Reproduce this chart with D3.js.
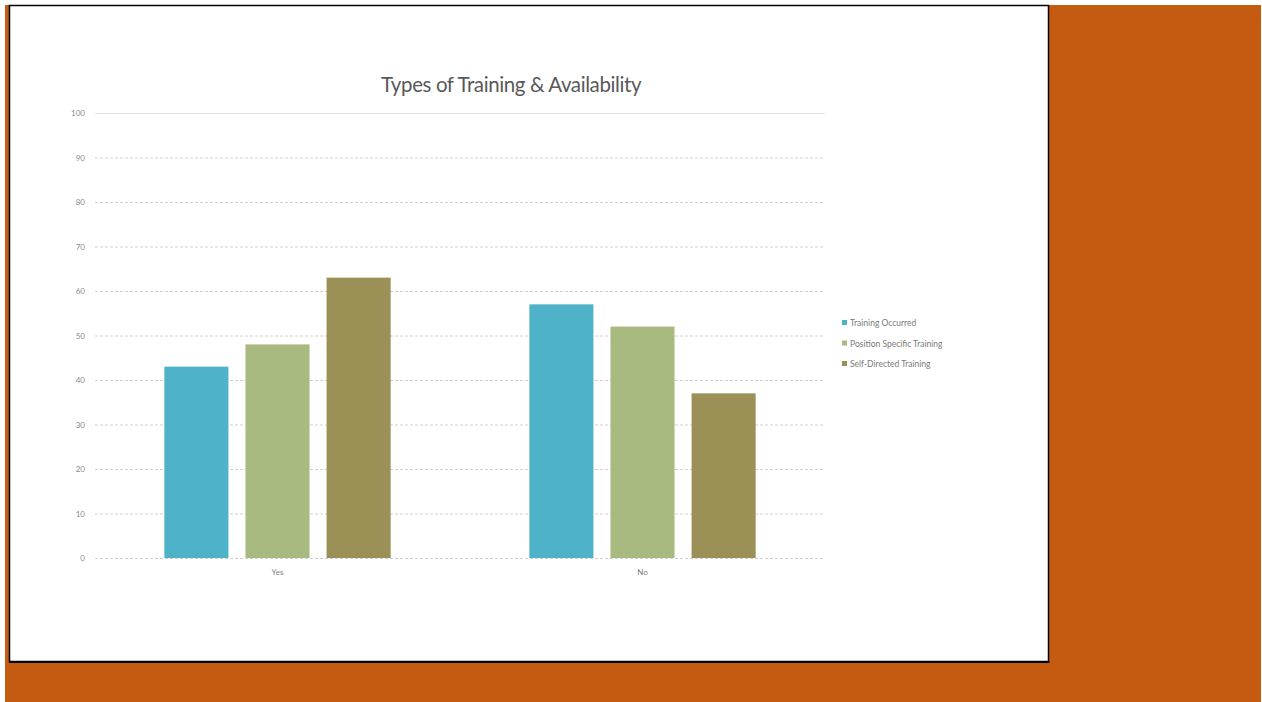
<!DOCTYPE html>
<html>
<head>
<meta charset="utf-8">
<script src="https://cdn.jsdelivr.net/npm/d3@7"></script>
<style>
  html, body { margin: 0; padding: 0; background: #ffffff; }
  svg { display: block; }
</style>
</head>
<body>
<svg id="chart" width="1262" height="702"></svg>
<script>
// Chart data
const categories = ["Yes", "No"];
const seriesNames = ["Training Occurred", "Position Specific Training", "Self-Directed Training"];
const trainingOccurred = [43, 57];
const positionSpecific = [48, 52];
const selfDirected = [63, 37];
const yTicks = [0, 10, 20, 30, 40, 50, 60, 70, 80, 90, 100];
const colors = ["#4EB3C8", "#A9BA80", "#9B9056"];
const title = "Types of Training & Availability";

const seriesValues = [trainingOccurred, positionSpecific, selfDirected];
const rows = categories.map((c, i) => ({
  category: c,
  values: seriesNames.map((s, j) => ({ series: s, value: seriesValues[j][i], idx: j }))
}));

const svg = d3.select("#chart");

// Slide background and white card
svg.append("rect").attr("x", 5).attr("y", 5).attr("width", 1256).attr("height", 697).attr("fill", "#C55A11");
svg.append("rect").attr("x", 9.5).attr("y", 5.5).attr("width", 1039).attr("height", 656)
  .attr("fill", "#ffffff").attr("stroke", "#000000").attr("stroke-width", 1.5);
svg.append("line").attr("x1", 9).attr("x2", 1049.5).attr("y1", 662).attr("y2", 662)
  .attr("stroke", "#000000").attr("stroke-width", 2);

// Scales
const plot = { left: 95, right: 825, top: 113, bottom: 558 };
const x0 = d3.scaleBand().domain(categories).range([plot.left, plot.right]).paddingInner(0.38).paddingOuter(0.19);
const x1 = d3.scaleBand().domain(seriesNames).range([0, x0.bandwidth()]).paddingInner(0.21);
const y = d3.scaleLinear().domain([0, 100]).range([plot.bottom, plot.top]);

// Title
svg.append("text")
  .attr("x", 511).attr("y", 92)
  .attr("text-anchor", "middle")
  .attr("font-family", "Lato, 'Open Sans', sans-serif")
  .attr("font-size", 20.5)
  .attr("letter-spacing", -0.4)
  .attr("fill", "#595959")
  .text(title);

// Gridlines and y-axis labels
const yAxis = d3.axisLeft(y).tickValues(yTicks).tickSize(-(plot.right - plot.left)).tickPadding(10);
const gy = svg.append("g").attr("transform", `translate(${plot.left},0)`).call(yAxis);
gy.select(".domain").remove();
gy.selectAll(".tick line")
  .attr("stroke", d => d === 100 ? "#e2e2e2" : "#d0d0d0")
  .attr("stroke-width", 1)
  .attr("stroke-dasharray", d => d === 100 ? null : "3,2");
gy.selectAll(".tick text")
  .attr("font-family", "Lato, 'Open Sans', sans-serif")
  .attr("font-size", 8)
  .attr("fill", "#8a8a8a");

// Bars
const groups = svg.append("g").selectAll("g").data(rows).join("g")
  .attr("transform", d => `translate(${x0(d.category)},0)`);
groups.selectAll("rect").data(d => d.values).join("rect")
  .attr("x", d => x1(d.series))
  .attr("y", d => y(d.value))
  .attr("width", x1.bandwidth())
  .attr("height", d => y(0) - y(d.value))
  .attr("fill", d => colors[d.idx]);

// Category axis labels
const xAxis = d3.axisBottom(x0).tickSize(0).tickPadding(11);
const gx = svg.append("g").attr("transform", `translate(0,${plot.bottom})`).call(xAxis);
gx.select(".domain").remove();
gx.selectAll(".tick text")
  .attr("font-family", "Lato, 'Open Sans', sans-serif")
  .attr("font-size", 8)
  .attr("fill", "#7a7a7a");

// Legend
const legend = svg.append("g").attr("transform", "translate(842,323)");
const items = legend.selectAll("g").data(seriesNames).join("g")
  .attr("transform", (d, i) => `translate(0,${i * 20.5})`);
items.append("rect").attr("x", 0).attr("y", -3).attr("width", 5).attr("height", 5)
  .attr("fill", (d, i) => colors[i]);
items.append("text").attr("x", 8).attr("y", 3)
  .attr("font-family", "Lato, 'Open Sans', sans-serif")
  .attr("font-size", 8.5)
  .attr("fill", "#7a7a7a")
  .text(d => d);
</script>
</body>
</html>
